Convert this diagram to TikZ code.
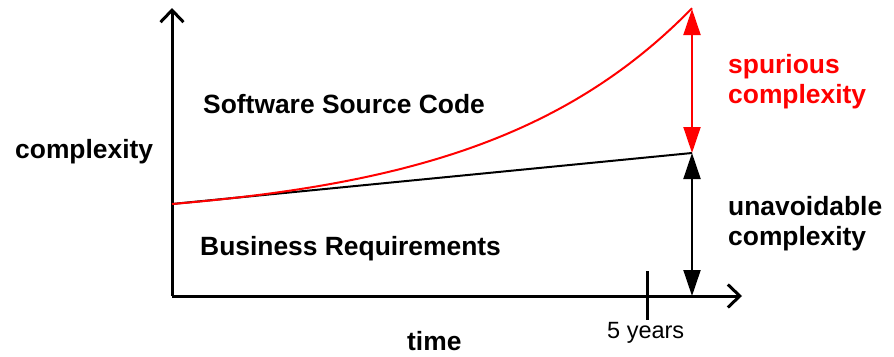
\documentclass[tikz,border=0pt]{standalone}
\usepackage{fontspec}
\setmainfont{Liberation Sans}
\usetikzlibrary{arrows.meta}
\tikzset{
  lbl/.style={anchor=base west, inner sep=0pt, font=\fontsize{26.4}{30}\selectfont\bfseries},
  small/.style={anchor=base west, inner sep=0pt, font=\fontsize{23.5}{28}\selectfont},
  axis/.style={line width=3pt, -{Straight Barb[length=12pt,width=23pt,line width=3pt]}},
  dbl/.style={line width=2pt, {Triangle[length=26pt,width=17pt]}-{Triangle[length=26pt,width=17pt]}}
}
\begin{document}
\begin{tikzpicture}[x=1pt,y=-1pt]
\useasboundingbox (0,0) rectangle (894,356);
\coordinate (O) at (172,296);
\coordinate (Ytop) at (172,8);
\coordinate (Xend) at (742,296);
\coordinate (S) at (172,204);
\coordinate (E1) at (692,153);
\coordinate (E2) at (692,9);
\coordinate (Eb) at (692,296);
\coordinate (T1) at (647,271);
\coordinate (T2) at (647,320);
% axes
\draw[axis] (O) -- (Ytop);
\draw[axis] (O) -- (Xend);
\draw[line width=3pt] (T1) -- (T2);
% lines
\draw[line width=2pt] (S) -- (E1);
\draw[red, line width=2pt] plot[domain=0:520, samples=80, smooth] ({172+\x},{204-17.52*(exp(0.0048*\x)-1)});
\draw[red, dbl] (E2) -- (E1);
\draw[dbl] (E1) -- (Eb);
% labels
\node[lbl] (cx) at (15,158) {complexity};
\node[lbl] (ssc) at (203,113) {Software Source Code};
\node[lbl] (br) at (200,255) {Business Requirements};
\node[lbl] (tm) at (407,350) {time};
\node[small] (yr) at (607,338) {5 years};
\node[lbl, text=red] (sp1) at (728,73) {spurious};
\node[lbl, text=red] (sp2) at (728,103) {complexity};
\node[lbl] (un1) at (728,215) {unavoidable};
\node[lbl] (un2) at (728,245) {complexity};
\end{tikzpicture}
\end{document}
